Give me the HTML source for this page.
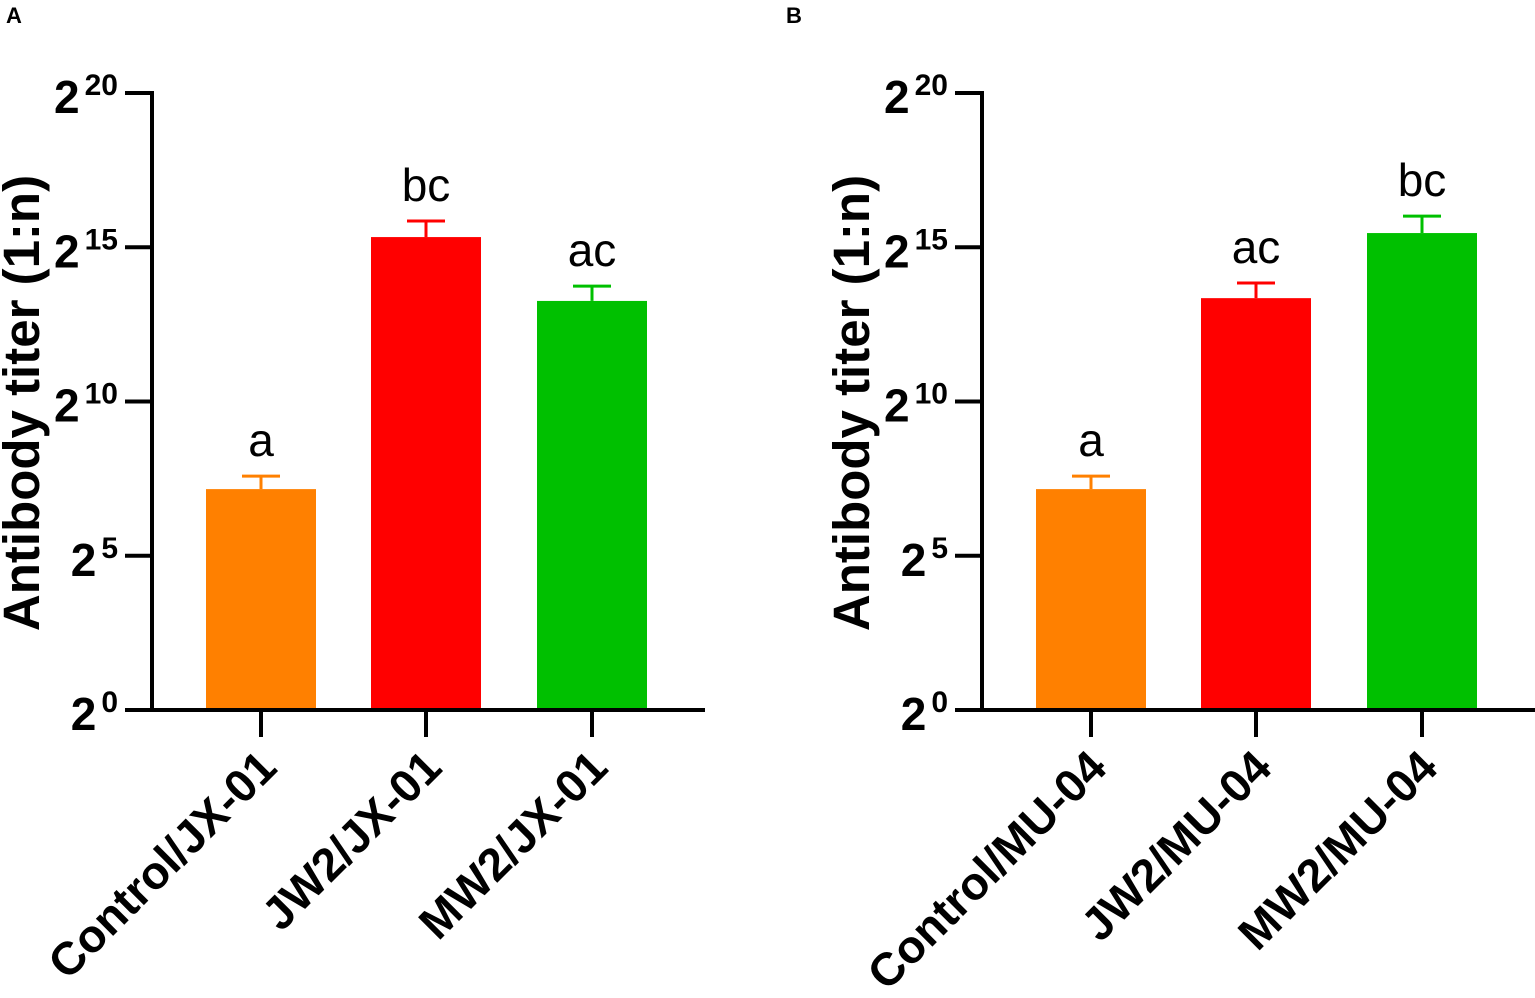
<!DOCTYPE html>
<html><head><meta charset="utf-8"><style>
html,body{margin:0;padding:0;background:#fff;}
svg{display:block;font-family:"Liberation Sans",Arial,sans-serif;}
</style></head>
<body>
<svg id="chart" width="1535" height="998" viewBox="0 0 1535 998" xmlns="http://www.w3.org/2000/svg"></svg>
<script>
const panelLetters = ["A", "B"];
const categoriesA = ["Control/JX-01", "JW2/JX-01", "MW2/JX-01"];
const categoriesB = ["Control/MU-04", "JW2/MU-04", "MW2/MU-04"];
const valuesA = [7.16, 15.33, 13.26];
const valuesB = [7.16, 13.35, 15.46];
const errorsA = [0.42, 0.52, 0.48];
const errorsB = [0.42, 0.49, 0.55];
const sigA = ["a", "bc", "ac"];
const sigB = ["a", "ac", "bc"];
const tickExps = [0, 5, 10, 15, 20];
const colors = ["#ff8000", "#ff0000", "#00c000"];

const NS = "http://www.w3.org/2000/svg";
const svg = document.getElementById("chart");
function mk(tag, attrs, parent) {
  const e = document.createElementNS(NS, tag);
  for (const k in attrs) e.setAttribute(k, attrs[k]);
  (parent || svg).appendChild(e);
  return e;
}
const yBase = 710, yTop = 93, yMax = 20;
function yScale(v) { return yBase - (v / yMax) * (yBase - yTop); }

function drawPanel(ox, letterX, letter, cats, vals, errs, sigs) {
  const g = mk("g", {});
  
  
  const axX = ox + 152;
  const pl = mk("text", {x: letterX, y: 23, "font-size": 22, "font-weight": "bold"}, g);
  pl.textContent = letter;
  
  
  const yt = mk("text", {x: 0, y: 0, "font-size": 51, "font-weight": "bold", "text-anchor": "middle",
    transform: `translate(${ox + 39},${403}) rotate(-90)`}, g);
  yt.textContent = "Antibody titer (1:n)";
  
  
  const xs = [ox + 261, ox + 426, ox + 592];
  const bw = 110;
  cats.forEach((c, i) => {
    const top = yScale(vals[i]);
    const r = mk("rect", {x: xs[i] - bw / 2, y: top, width: bw, height: yBase - top, fill: colors[i]}, g);
    
    
    const et = yScale(vals[i] + errs[i]);
    const el = mk("path", {d: `M${xs[i]},${top} V${et} M${xs[i] - 19},${et} H${xs[i] + 19}`, stroke: colors[i], "stroke-width": 3, fill: "none"}, g);
    
    
    const s = mk("text", {x: xs[i], y: et - 20, "font-size": 46, "text-anchor": "middle"}, g);
    s.textContent = sigs[i];
    
    
    const tk = mk("line", {x1: xs[i], x2: xs[i], y1: yBase, y2: 737, stroke: "#000", "stroke-width": 4}, g);
    
    
    const xl = mk("text", {x: 0, y: 0, "font-size": 46, "font-weight": "bold", "text-anchor": "end",
      transform: `translate(${xs[i] + 18},${770}) rotate(-45)`}, g);
    xl.textContent = c;
    
    
  });
  const ya = mk("line", {x1: axX, x2: axX, y1: yTop - 2, y2: yBase + 2, stroke: "#000", "stroke-width": 4}, g);
  
  
  const xa = mk("line", {x1: ox + 125, x2: ox + 705, y1: yBase, y2: yBase, stroke: "#000", "stroke-width": 4}, g);
  
  
  tickExps.forEach(t => {
    const y = yScale(t);
    if (t > 0) {
      const tl = mk("line", {x1: ox + 125, x2: axX, y1: y, y2: y, stroke: "#000", "stroke-width": 4}, g);
      
      
    }
    const tx = mk("text", {x: ox + 118, y: y + 20, "font-size": 46, "font-weight": "bold", "text-anchor": "end"}, g);
    
    
    const b = mk("tspan", {}, tx); b.textContent = "2";
    const sp = mk("tspan", {dy: -18, dx: 5, "font-size": 30, "font-weight": "bold"}, tx); sp.textContent = String(t);
  });
}
drawPanel(0, 6, panelLetters[0], categoriesA, valuesA, errorsA, sigA);
drawPanel(830, 786, panelLetters[1], categoriesB, valuesB, errorsB, sigB);
</script>
</body></html>
